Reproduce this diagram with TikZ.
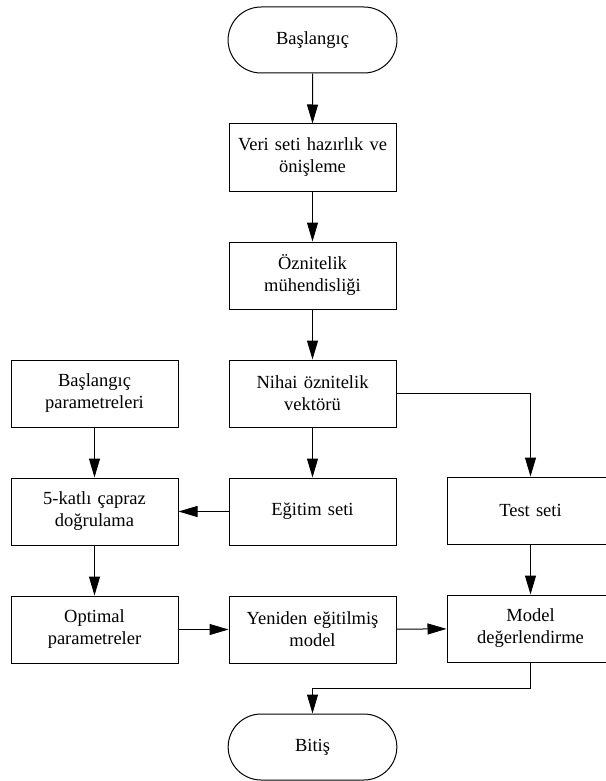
\documentclass[tikz,border=0pt]{standalone}
\usepackage{fontspec}
\setmainfont{Liberation Serif}
\usepackage{tikz}
\usetikzlibrary{positioning}
\usetikzlibrary{shapes.misc,calc}
\usetikzlibrary{arrows.meta}

\begin{document}
\begin{tikzpicture}[->,>={Triangle[length=19pt,width=11pt]},auto,node distance=50pt,
                    line width=1pt,
                    box node/.style={rectangle,draw,minimum width=167pt,minimum height=67pt,
                      text width=160pt,align=center,font=\rmfamily\fontsize{18.5}{22}\selectfont},
                    term node/.style={box node,rounded rectangle,minimum height=66pt}]
  \useasboundingbox (0pt,0pt) rectangle (605pt,-781pt);

  \node[term node] (S) at (312.5pt,-40pt) {Başlangıç};
  \node[box node] (V) [below=of S] {Veri seti hazırlık ve\\önişleme};
  \node[box node] (O) [below=of V] {Öznitelik\\mühendisliği};
  \node[box node] (N) [below=of O] {Nihai öznitelik\\vektörü};
  \node[box node] (P) [left=of N] {Başlangıç\\parametreleri};
  \node[box node] (T) [right=of N, yshift=-117pt] {Test seti};
  \node[box node] (E) [below=of N] {Eğitim seti};
  \node[box node] (K) [below=of P] {5-katlı çapraz\\doğrulama};
  \node[box node] (Op) [below=of K] {Optimal\\parametreler};
  \node[box node] (Y) [below=of E] {Yeniden eğitilmiş\\model};
  \node[box node] (M) [below=of T] {Model\\değerlendirme};
  \node[term node] (B) [below=of Y] {Bitiş};

  \coordinate (knee) at ($(Y.south)!0.5!(B.north)$);

  \path
    (S) edge (V)
    (V) edge (O)
    (O) edge (N)
    (N) edge (E)
    (P) edge (K)
    (E) edge (K)
    (K) edge (Op)
    (Op) edge (Y)
    (Y) edge (M)
    (T) edge (M);
  \draw (N.east) -| (T.north);
  \draw (M.south) |- (knee) -- (B.north);
\end{tikzpicture}
\end{document}
